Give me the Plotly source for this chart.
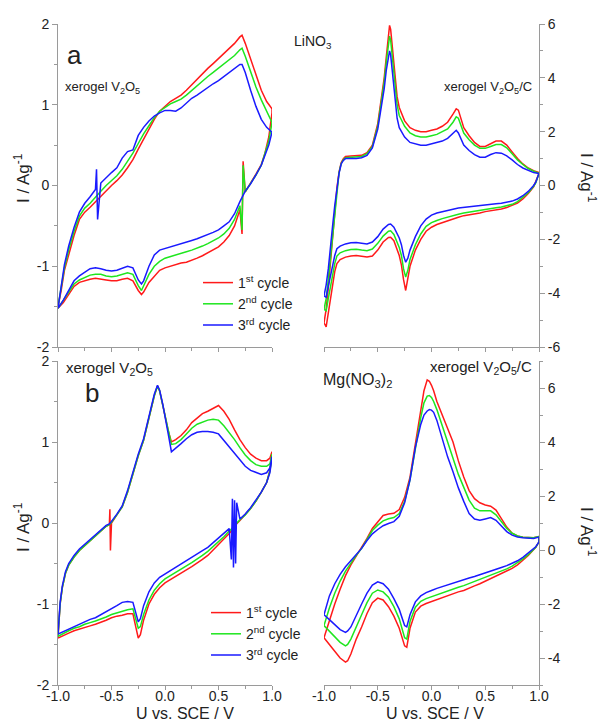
import plotly.graph_objects as go

FONT = "Liberation Sans, Arial, sans-serif"

cycle_names = ["1<sup>st</sup> cycle", "2<sup>nd</sup> cycle", "3<sup>rd</sup> cycle"]
cycle_colors = ["#ff1a1a", "#1ee61e", "#1a1aff"]

x_tickvals = [-1.0, -0.5, 0.0, 0.5, 1.0]
x_ticktext = ["-1.0", "-0.5", "0.0", "0.5", "1.0"]
yL_tickvals = [-2, -1, 0, 1, 2]
yL_ticktext = ["-2", "-1", "0", "1", "2"]
yTR_tickvals = [-6, -4, -2, 0, 2, 4, 6]
yTR_ticktext = ["-6", "-4", "-2", "0", "2", "4", "6"]
yBR_tickvals = [-4, -2, 0, 2, 4, 6]
yBR_ticktext = ["-4", "-2", "0", "2", "4", "6"]

# ---------------- (a) LiNO3, xerogel V2O5 ----------------
aL_U_an = [-1.0, -0.97, -0.94, -0.9, -0.85, -0.8, -0.75, -0.7, -0.65, -0.64, -0.63, -0.6, -0.55, -0.5, -0.45,
           -0.4, -0.35, -0.3, -0.25, -0.2, -0.15, -0.1, -0.05, 0.0, 0.05, 0.1, 0.15, 0.2, 0.25, 0.3, 0.35,
           0.4, 0.45, 0.5, 0.55, 0.6, 0.65, 0.7, 0.72, 0.75, 0.8, 0.85, 0.9, 0.95, 1.0]
aL_an_c1 = [-1.5, -1.3, -1.05, -0.85, -0.62, -0.42, -0.33, -0.27, -0.2, -0.19, -0.18, -0.13, -0.06, 0.0, 0.06,
            0.13, 0.22, 0.32, 0.45, 0.58, 0.7, 0.82, 0.92, 0.98, 1.04, 1.08, 1.12, 1.18, 1.25, 1.32, 1.39,
            1.45, 1.51, 1.57, 1.63, 1.69, 1.76, 1.84, 1.86, 1.76, 1.56, 1.36, 1.18, 1.04, 0.95]
aL_an_c2 = [-1.5, -1.28, -1.02, -0.8, -0.57, -0.38, -0.28, -0.22, -0.14, -0.13, -0.12, -0.07, 0.0, 0.06, 0.12,
            0.2, 0.3, 0.4, 0.52, 0.64, 0.74, 0.84, 0.92, 0.97, 1.01, 1.04, 1.07, 1.12, 1.18, 1.24, 1.3,
            1.35, 1.4, 1.45, 1.5, 1.55, 1.61, 1.68, 1.7, 1.6, 1.4, 1.22, 1.06, 0.92, 0.8]
aL_an_c3 = [-1.52, -1.25, -0.98, -0.75, -0.52, -0.33, -0.22, -0.14, -0.05, 0.2, -0.42, 0.03, 0.1, 0.16, 0.22,
            0.34, 0.42, 0.44, 0.62, 0.72, 0.8, 0.86, 0.9, 0.93, 0.93, 0.92, 0.96, 1.02, 1.08, 1.12, 1.17,
            1.21, 1.26, 1.3, 1.35, 1.4, 1.45, 1.5, 1.5, 1.4, 1.18, 0.98, 0.82, 0.72, 0.66]
aL_U_cat = [1.0, 0.97, 0.93, 0.9, 0.85, 0.8, 0.75, 0.73, 0.72, 0.7, 0.65, 0.6, 0.55, 0.5, 0.45, 0.4, 0.35,
            0.3, 0.25, 0.2, 0.15, 0.1, 0.05, 0.0, -0.05, -0.1, -0.15, -0.2, -0.22, -0.25, -0.3, -0.35, -0.4,
            -0.45, -0.5, -0.55, -0.6, -0.65, -0.7, -0.75, -0.8, -0.85, -0.9, -0.95, -1.0]
aL_cat_c1 = [0.9, 0.6, 0.38, 0.26, 0.14, 0.03, -0.08, 0.3, -0.6, -0.3, -0.5, -0.62, -0.7, -0.76, -0.8, -0.84,
             -0.87, -0.9, -0.93, -0.95, -0.96, -0.98, -1.0, -1.02, -1.05, -1.12, -1.2, -1.32, -1.35, -1.3,
             -1.18, -1.15, -1.16, -1.18, -1.18, -1.17, -1.16, -1.15, -1.16, -1.18, -1.2, -1.25, -1.35, -1.45, -1.52]
aL_cat_c2 = [0.78, 0.55, 0.37, 0.25, 0.13, 0.02, -0.08, 0.25, -0.55, -0.25, -0.42, -0.53, -0.6, -0.65, -0.69,
             -0.72, -0.75, -0.78, -0.8, -0.82, -0.84, -0.86, -0.88, -0.9, -0.94, -1.0, -1.1, -1.26, -1.3, -1.24,
             -1.1, -1.08, -1.1, -1.12, -1.13, -1.12, -1.1, -1.1, -1.11, -1.14, -1.17, -1.22, -1.32, -1.43, -1.52]
aL_cat_c3 = [0.66, 0.5, 0.36, 0.25, 0.13, 0.02, -0.07, -0.12, -0.14, -0.2, -0.35, -0.45, -0.5, -0.55, -0.58,
             -0.61, -0.64, -0.66, -0.68, -0.7, -0.72, -0.74, -0.76, -0.78, -0.8, -0.86, -1.0, -1.18, -1.22, -1.17,
             -1.02, -1.0, -1.03, -1.05, -1.06, -1.05, -1.03, -1.02, -1.03, -1.07, -1.12, -1.18, -1.3, -1.42, -1.52]

# ---------------- (a) LiNO3, xerogel V2O5/C ----------------
aR_U_an = [-1.0, -0.98, -0.96, -0.94, -0.92, -0.9, -0.88, -0.86, -0.84, -0.82, -0.8, -0.75, -0.7, -0.65, -0.6,
           -0.55, -0.5, -0.47, -0.44, -0.42, -0.4, -0.39, -0.38, -0.36, -0.34, -0.32, -0.3, -0.25, -0.2, -0.15,
           -0.1, -0.05, 0.0, 0.05, 0.1, 0.15, 0.2, 0.23, 0.25, 0.28, 0.3, 0.35, 0.4, 0.45, 0.5, 0.55, 0.6, 0.65,
           0.7, 0.75, 0.8, 0.85, 0.9, 0.95, 1.0]
aR_an_c1 = [-5.1, -4.6, -3.8, -2.9, -1.8, -0.9, -0.1, 0.5, 0.85, 1.0, 1.08, 1.1, 1.1, 1.12, 1.22, 1.5, 2.3,
            3.1, 4.0, 4.8, 5.6, 5.95, 5.8, 5.0, 4.0, 3.3, 2.9, 2.4, 2.15, 2.05, 2.0, 2.0, 2.05, 2.1, 2.2, 2.35,
            2.65, 2.85, 2.8, 2.4, 2.15, 1.85, 1.6, 1.45, 1.45, 1.55, 1.65, 1.65, 1.5, 1.25, 1.0, 0.8, 0.65, 0.55, 0.48]
aR_an_c2 = [-4.6, -4.2, -3.5, -2.7, -1.7, -0.85, -0.1, 0.48, 0.82, 0.96, 1.03, 1.05, 1.05, 1.08, 1.18, 1.45, 2.2,
            3.0, 3.85, 4.6, 5.3, 5.55, 5.4, 4.6, 3.7, 3.0, 2.6, 2.2, 1.95, 1.85, 1.8, 1.8, 1.85, 1.9, 2.0, 2.1,
            2.35, 2.55, 2.5, 2.2, 1.95, 1.7, 1.5, 1.38, 1.38, 1.45, 1.52, 1.52, 1.4, 1.18, 0.95, 0.78, 0.63, 0.53, 0.47]
aR_an_c3 = [-4.1, -3.7, -3.1, -2.4, -1.5, -0.75, -0.05, 0.45, 0.8, 0.93, 1.0, 1.0, 1.0, 1.03, 1.12, 1.4, 2.1,
            2.85, 3.6, 4.3, 4.85, 5.0, 4.85, 4.1, 3.2, 2.5, 2.15, 1.8, 1.6, 1.55, 1.5, 1.5, 1.55, 1.6, 1.65, 1.75,
            1.95, 2.05, 1.95, 1.7, 1.5, 1.3, 1.15, 1.05, 1.05, 1.15, 1.22, 1.2, 1.1, 0.95, 0.78, 0.65, 0.55, 0.48, 0.45]
aR_U_cat = [1.0, 0.97, 0.95, 0.9, 0.85, 0.8, 0.75, 0.7, 0.65, 0.6, 0.55, 0.5, 0.45, 0.4, 0.35, 0.3, 0.25, 0.2,
            0.15, 0.1, 0.05, 0.0, -0.05, -0.1, -0.15, -0.2, -0.22, -0.24, -0.26, -0.28, -0.3, -0.35, -0.38, -0.4,
            -0.45, -0.5, -0.55, -0.6, -0.65, -0.7, -0.75, -0.8, -0.85, -0.88, -0.9, -0.92, -0.94, -0.96, -0.98, -1.0]
aR_cat_c1 = [0.45, 0.1, -0.05, -0.3, -0.5, -0.65, -0.75, -0.82, -0.87, -0.9, -0.93, -0.97, -1.02, -1.05, -1.08,
             -1.12, -1.18, -1.25, -1.3, -1.38, -1.45, -1.55, -1.7, -2.0, -2.4, -3.0, -3.5, -3.9, -3.5, -2.95,
             -2.6, -2.05, -1.92, -1.93, -2.1, -2.4, -2.62, -2.66, -2.63, -2.6, -2.62, -2.66, -2.75, -2.9, -3.2,
             -3.7, -4.2, -4.75, -5.25, -5.1]
aR_cat_c2 = [0.45, 0.1, -0.03, -0.27, -0.45, -0.6, -0.7, -0.76, -0.8, -0.83, -0.86, -0.9, -0.93, -0.95, -0.98,
             -1.02, -1.07, -1.12, -1.17, -1.23, -1.3, -1.38, -1.52, -1.8, -2.2, -2.75, -3.15, -3.4, -3.1, -2.6,
             -2.3, -1.82, -1.68, -1.7, -1.88, -2.15, -2.36, -2.42, -2.4, -2.37, -2.38, -2.42, -2.5, -2.62, -2.9,
             -3.3, -3.75, -4.2, -4.65, -4.6]
aR_cat_c3 = [0.45, 0.12, 0.0, -0.22, -0.38, -0.5, -0.58, -0.63, -0.66, -0.68, -0.7, -0.72, -0.74, -0.76, -0.78,
             -0.8, -0.84, -0.88, -0.92, -0.97, -1.02, -1.1, -1.25, -1.5, -1.9, -2.4, -2.7, -2.85, -2.6, -2.2,
             -1.95, -1.55, -1.43, -1.45, -1.62, -1.9, -2.1, -2.17, -2.15, -2.12, -2.13, -2.17, -2.25, -2.35, -2.6,
             -2.95, -3.35, -3.75, -4.15, -4.1]

# ---------------- (b) Mg(NO3)2, xerogel V2O5 ----------------
bL_U_an = [-1.0, -0.98, -0.96, -0.93, -0.9, -0.85, -0.8, -0.75, -0.7, -0.65, -0.6, -0.55, -0.52, -0.515, -0.51,
           -0.5, -0.45, -0.4, -0.35, -0.3, -0.25, -0.2, -0.15, -0.1, -0.07, -0.05, -0.02, 0.0, 0.03, 0.06, 0.1,
           0.15, 0.2, 0.25, 0.3, 0.35, 0.4, 0.45, 0.5, 0.55, 0.6, 0.65, 0.7, 0.75, 0.8, 0.85, 0.9, 0.95, 0.98, 1.0]
bL_an_c1 = [-1.42, -1.0, -0.8, -0.62, -0.52, -0.42, -0.34, -0.28, -0.22, -0.16, -0.1, -0.04, -0.02, 0.17, -0.34,
            0.0, 0.1, 0.2, 0.38, 0.62, 0.83, 1.02, 1.3, 1.57, 1.69, 1.63, 1.45, 1.32, 1.14, 1.0, 1.03,
            1.08, 1.15, 1.24, 1.3, 1.35, 1.38, 1.42, 1.45, 1.38, 1.28, 1.15, 1.03, 0.93, 0.85, 0.8, 0.77, 0.77, 0.8, 0.88]
bL_an_c2 = [-1.4, -1.0, -0.8, -0.62, -0.52, -0.42, -0.34, -0.28, -0.22, -0.16, -0.1, -0.04, -0.02, -0.01, 0.0,
            0.01, 0.1, 0.2, 0.38, 0.62, 0.83, 1.02, 1.3, 1.57, 1.69, 1.63, 1.45, 1.32, 1.13, 0.97, 0.98,
            1.03, 1.1, 1.17, 1.22, 1.25, 1.27, 1.28, 1.27, 1.2, 1.12, 1.03, 0.93, 0.84, 0.77, 0.72, 0.7, 0.7, 0.73, 0.85]
bL_an_c3 = [-1.37, -0.98, -0.78, -0.6, -0.5, -0.4, -0.32, -0.26, -0.2, -0.14, -0.08, -0.03, -0.01, 0.0, 0.01,
            0.02, 0.11, 0.21, 0.4, 0.64, 0.85, 1.04, 1.32, 1.59, 1.7, 1.64, 1.46, 1.3, 1.1, 0.88, 0.93,
            0.98, 1.04, 1.09, 1.12, 1.13, 1.13, 1.12, 1.1, 1.02, 0.94, 0.85, 0.77, 0.7, 0.65, 0.62, 0.6, 0.62, 0.68, 0.82]
bL_U_cat = [1.0, 0.98, 0.95, 0.9, 0.85, 0.8, 0.75, 0.7, 0.67, 0.66, 0.65, 0.64, 0.63, 0.62, 0.6, 0.55, 0.5, 0.45,
            0.4, 0.35, 0.3, 0.25, 0.2, 0.15, 0.1, 0.05, 0.0, -0.05, -0.1, -0.15, -0.2, -0.23, -0.25, -0.27, -0.3,
            -0.35, -0.4, -0.45, -0.5, -0.55, -0.6, -0.65, -0.7, -0.75, -0.8, -0.85, -0.9, -0.95, -1.0]
bL_cat_c1 = [0.85, 0.65, 0.5, 0.38, 0.27, 0.18, 0.1, 0.03, -0.01, -0.03, -0.05, -0.07, -0.09, -0.1, -0.13, -0.2,
             -0.27, -0.34, -0.4, -0.45, -0.5, -0.54, -0.58, -0.62, -0.66, -0.7, -0.74, -0.8, -0.88, -1.0, -1.2,
             -1.38, -1.42, -1.3, -1.12, -1.12, -1.14, -1.15, -1.17, -1.2, -1.23, -1.25, -1.27, -1.29, -1.31,
             -1.33, -1.36, -1.39, -1.42]
bL_cat_c2 = [0.82, 0.64, 0.5, 0.38, 0.27, 0.18, 0.1, 0.04, 0.0, -0.01, -0.03, -0.05, -0.06, -0.07, -0.1, -0.17,
             -0.23, -0.3, -0.35, -0.4, -0.45, -0.49, -0.53, -0.57, -0.61, -0.65, -0.69, -0.75, -0.83, -0.95,
             -1.13, -1.28, -1.3, -1.2, -1.06, -1.07, -1.09, -1.11, -1.13, -1.16, -1.19, -1.21, -1.23, -1.25,
             -1.28, -1.3, -1.33, -1.37, -1.4]
bL_cat_c3 = [0.8, 0.62, 0.5, 0.38, 0.28, 0.19, 0.11, 0.05, 0.25, -0.5, 0.28, -0.55, 0.3, -0.45, -0.07, -0.13,
             -0.19, -0.25, -0.3, -0.34, -0.38, -0.42, -0.46, -0.5, -0.54, -0.58, -0.62, -0.67, -0.74, -0.85,
             -1.02, -1.18, -1.22, -1.12, -0.98, -0.97, -0.98, -1.02, -1.06, -1.1, -1.14, -1.17, -1.19, -1.22,
             -1.25, -1.28, -1.31, -1.34, -1.37]

# ---------------- (b) Mg(NO3)2, xerogel V2O5/C ----------------
bR_U_an = [-1.0, -0.95, -0.9, -0.85, -0.8, -0.75, -0.7, -0.65, -0.6, -0.55, -0.5, -0.45, -0.4, -0.35, -0.3,
           -0.25, -0.2, -0.15, -0.1, -0.07, -0.04, -0.02, 0.0, 0.02, 0.05, 0.1, 0.15, 0.2, 0.25, 0.3, 0.35,
           0.4, 0.45, 0.5, 0.55, 0.6, 0.65, 0.7, 0.75, 0.8, 0.85, 0.9, 0.95, 1.0]
bR_an_c1 = [-3.25, -2.6, -2.0, -1.45, -0.95, -0.55, -0.22, 0.06, 0.43, 0.8, 1.04, 1.28, 1.33, 1.36, 1.5,
            1.95, 2.7, 3.96, 5.2, 5.9, 6.3, 6.25, 6.1, 5.9, 5.5, 5.0, 4.57, 4.0, 3.3, 2.7, 2.2,
            1.9, 1.75, 1.67, 1.62, 1.48, 1.16, 0.85, 0.62, 0.52, 0.47, 0.45, 0.45, 0.5]
bR_an_c2 = [-2.8, -2.15, -1.6, -1.15, -0.78, -0.48, -0.2, 0.06, 0.4, 0.72, 0.92, 1.08, 1.16, 1.2, 1.35,
            1.8, 2.6, 3.8, 4.9, 5.45, 5.7, 5.72, 5.65, 5.5, 5.2, 4.6, 3.96, 3.4, 2.8, 2.3, 1.85,
            1.55, 1.45, 1.45, 1.45, 1.3, 1.05, 0.8, 0.62, 0.52, 0.47, 0.45, 0.45, 0.5]
bR_an_c3 = [-2.4, -1.7, -1.25, -0.9, -0.62, -0.4, -0.17, 0.06, 0.35, 0.6, 0.76, 0.9, 0.98, 1.05, 1.25,
            1.75, 2.6, 3.8, 4.65, 5.0, 5.15, 5.2, 5.18, 5.1, 4.8, 4.1, 3.45, 2.9, 2.3, 1.8, 1.35,
            1.15, 1.1, 1.15, 1.2, 1.1, 0.88, 0.68, 0.55, 0.48, 0.45, 0.43, 0.43, 0.48]
bR_U_cat = [1.0, 0.97, 0.93, 0.9, 0.85, 0.8, 0.75, 0.7, 0.65, 0.6, 0.55, 0.5, 0.45, 0.4, 0.35, 0.3, 0.25, 0.2,
            0.15, 0.1, 0.05, 0.0, -0.05, -0.1, -0.15, -0.2, -0.23, -0.25, -0.27, -0.3, -0.35, -0.4, -0.45, -0.5,
            -0.55, -0.6, -0.65, -0.7, -0.75, -0.78, -0.8, -0.85, -0.9, -0.95, -1.0]
bR_cat_c1 = [0.3, 0.1, -0.08, -0.2, -0.38, -0.55, -0.68, -0.78, -0.88, -0.95, -1.05, -1.15, -1.25, -1.33, -1.42,
             -1.5, -1.55, -1.62, -1.7, -1.78, -1.85, -1.92, -1.98, -2.08, -2.3, -2.9, -3.6, -3.55, -3.3, -2.9,
             -2.45, -2.1, -1.85, -1.78, -1.95, -2.35, -2.85, -3.3, -3.85, -4.1, -4.15, -4.0, -3.75, -3.5, -3.25]
bR_cat_c2 = [0.3, 0.1, -0.06, -0.17, -0.33, -0.48, -0.6, -0.7, -0.78, -0.86, -0.94, -1.02, -1.1, -1.18, -1.25,
             -1.32, -1.38, -1.45, -1.52, -1.58, -1.66, -1.74, -1.8, -1.9, -2.12, -2.65, -3.3, -3.25, -2.98, -2.55,
             -2.1, -1.75, -1.55, -1.48, -1.6, -1.95, -2.4, -2.85, -3.3, -3.5, -3.55, -3.42, -3.2, -3.0, -2.8]
bR_cat_c3 = [0.3, 0.12, -0.02, -0.12, -0.27, -0.4, -0.5, -0.58, -0.65, -0.72, -0.79, -0.86, -0.92, -0.98, -1.04,
             -1.1, -1.16, -1.22, -1.28, -1.35, -1.42, -1.5, -1.58, -1.7, -1.92, -2.4, -2.85, -2.8, -2.55, -2.2,
             -1.8, -1.45, -1.25, -1.18, -1.3, -1.6, -2.0, -2.45, -2.85, -3.0, -3.05, -2.95, -2.75, -2.58, -2.4]

panels = [
    ("x", "y", aL_U_an, aL_U_cat, [aL_an_c1, aL_an_c2, aL_an_c3], [aL_cat_c1, aL_cat_c2, aL_cat_c3], "legend"),
    ("x2", "y2", aR_U_an, aR_U_cat, [aR_an_c1, aR_an_c2, aR_an_c3], [aR_cat_c1, aR_cat_c2, aR_cat_c3], None),
    ("x3", "y3", bL_U_an, bL_U_cat, [bL_an_c1, bL_an_c2, bL_an_c3], [bL_cat_c1, bL_cat_c2, bL_cat_c3], "legend2"),
    ("x4", "y4", bR_U_an, bR_U_cat, [bR_an_c1, bR_an_c2, bR_an_c3], [bR_cat_c1, bR_cat_c2, bR_cat_c3], None),
]

fig = go.Figure()
for xa, ya, u_an, u_cat, ans, cats, leg in panels:
    for k in range(3):
        tr = dict(
            x=u_an + u_cat, y=ans[k] + cats[k], mode="lines",
            line=dict(color=cycle_colors[k], width=1.5),
            xaxis=xa, yaxis=ya, name=cycle_names[k],
            showlegend=leg is not None,
        )
        if leg is not None:
            tr["legend"] = leg
        fig.add_trace(go.Scatter(**tr))

W, H = 600, 723
AX = "#9a9a9a"
TICKFONT = dict(family=FONT, size=14, color="#222")

xL = [58 / W, 272 / W]
xR = [324 / W, 539 / W]
yT = [1 - 347 / H, 1 - 24 / H]
yB = [1 - 685 / H, 1 - 361 / H]


def xaxis(domain, anchor, labels):
    return dict(domain=domain, anchor=anchor, range=[-1, 1], tickvals=x_tickvals, ticktext=x_ticktext,
                showticklabels=labels, showline=True, linecolor=AX, linewidth=1, ticks="outside",
                ticklen=4, tickcolor=AX, minor=dict(ticks="outside", ticklen=3, tickcolor=AX, dtick=0.25, tick0=-1),
                showgrid=False, zeroline=False, tickfont=TICKFONT, automargin=False, ticklabelstandoff=-6)


def yaxis(domain, anchor, rng, tv, tt, side, mdt):
    return dict(domain=domain, anchor=anchor, range=rng, tickvals=tv, ticktext=tt, side=side,
                showline=True, linecolor=AX, linewidth=1, ticks="outside", ticklen=5, tickcolor=AX,
                minor=dict(ticks="outside", ticklen=3, tickcolor=AX, dtick=mdt, tick0=0),
                showgrid=False, zeroline=False, tickfont=TICKFONT, automargin=False)


legend_style = dict(xanchor="left", yanchor="top", bgcolor="rgba(0,0,0,0)", itemwidth=30,
                    font=dict(family=FONT, size=14, color="#222"), tracegroupgap=0)

fig.update_layout(
    template="none",
    width=W, height=H, margin=dict(l=0, r=0, t=0, b=0, autoexpand=False),
    paper_bgcolor="white", plot_bgcolor="white",
    font=dict(family=FONT, color="#222"),
    xaxis=xaxis(xL, "y", False),
    yaxis=yaxis(yT, "x", [-2, 2], yL_tickvals, yL_ticktext, "left", 0.5),
    xaxis2=xaxis(xR, "y2", False),
    yaxis2=yaxis(yT, "x2", [-6, 6], yTR_tickvals, yTR_ticktext, "right", 1),
    xaxis3=xaxis(xL, "y3", True),
    yaxis3=yaxis(yB, "x3", [-2, 2], yL_tickvals, yL_ticktext, "left", 0.5),
    xaxis4=xaxis(xR, "y4", True),
    yaxis4=yaxis(yB, "x4", [-5, 7], yBR_tickvals, yBR_ticktext, "right", 1),
    legend=dict(x=198 / W, y=1 - 267 / H, **legend_style),
    legend2=dict(x=206 / W, y=1 - 597 / H, **legend_style),
)


def note(text, xp, yp, size, xanchor="center", angle=0):
    fig.add_annotation(text=text, x=xp / W, y=1 - yp / H, xref="paper", yref="paper", showarrow=False,
                       xanchor=xanchor, yanchor="middle", textangle=angle,
                       font=dict(family=FONT, size=size, color="#222"))


note("a", 74, 55, 26)
note("xerogel V<sub>2</sub>O<sub>5</sub>", 63, 87, 13, "left")
note("LiNO<sub>3</sub>", 313, 42, 14)
note("xerogel V<sub>2</sub>O<sub>5</sub>/C", 534, 87, 13, "right")
note("b", 92, 393, 26)
note("xerogel V<sub>2</sub>O<sub>5</sub>", 64, 368, 15, "left")
note("Mg(NO<sub>3</sub>)<sub>2</sub>", 357, 380, 16)
note("xerogel V<sub>2</sub>O<sub>5</sub>/C", 534, 367, 15, "right")
note("I / Ag<sup>-1</sup>", 22, 178, 17, angle=-90)
note("I / Ag<sup>-1</sup>", 22, 527, 17, angle=-90)
note("I / Ag<sup>-1</sup>", 588, 178, 17, angle=90)
note("I / Ag<sup>-1</sup>", 588, 532, 17, angle=90)
note("U vs. SCE / V", 185, 713, 16)
note("U vs. SCE / V", 435, 713, 16)

fig.write_html("out.html", config={"displayModeBar": False},
               post_script="document.body.style.margin='0px';")
